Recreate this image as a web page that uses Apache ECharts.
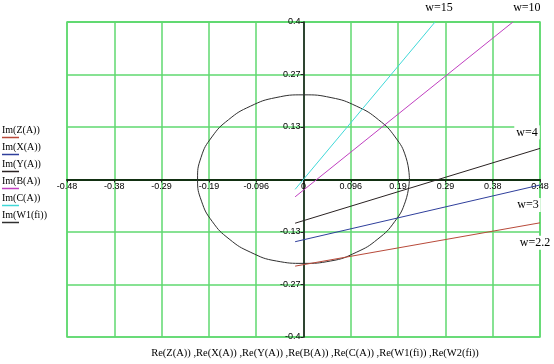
<!DOCTYPE html>
<html><head><meta charset="utf-8">
<script src="https://cdn.jsdelivr.net/npm/echarts@6/dist/echarts.min.js"></script>
<style>html,body{margin:0;padding:0;background:#fff}#c{width:554px;height:364px}</style>
</head><body><div id="c"></div>
<script>
// ---- data ----
const seriesNames = ['Im(Z(A))', 'Im(X(A))', 'Im(Y(A))', 'Im(B(A))', 'Im(C(A))', 'Im(W1(fi))'];
const lineTags = ['w=2.2', 'w=3', 'w=4', 'w=10', 'w=15'];
const xAxisTitle = 'Re(Z(A)) ,Re(X(A)) ,Re(Y(A)) ,Re(B(A)) ,Re(C(A)) ,Re(W1(fi)) ,Re(W2(fi))';
const xTickLabels = ['-0.48', '-0.38', '-0.29', '-0.19', '-0.096', '0', '0.096', '0.19', '0.29', '0.38', '0.48'];
const yTickLabels = ['-0.4', '-0.27', '-0.13', '', '0.13', '0.27', '0.4'];

const zRe = [-0.017, 0.48];   const zIm = [-0.220, -0.110];
const xRe = [-0.017, 0.48];   const xIm = [-0.158, -0.014];
const yRe = [-0.017, 0.48];   const yIm = [-0.111, 0.079];
const bRe = [-0.017, 0.425];  const bIm = [-0.044, 0.400];
const cRe = [-0.017, 0.267];  const cIm = [-0.025, 0.400];
const w1Re = [0.215, 0.208, 0.186, 0.152, 0.108, 0.056, 0, -0.056, -0.108, -0.152, -0.186, -0.208, -0.215,
              -0.207, -0.185, -0.151, -0.107, -0.055, 0, 0.055, 0.107, 0.151, 0.185, 0.207, 0.215];
const w1Im = [0, 0.056, 0.108, 0.152, 0.186, 0.208, 0.215, 0.208, 0.186, 0.152, 0.108, 0.056, 0,
              -0.055, -0.107, -0.151, -0.185, -0.207, -0.213, -0.207, -0.185, -0.151, -0.107, -0.055, 0];

// ---- styling ----
const colors = ['#b84a3a', '#2f3f9c', '#2a2222', '#c040c0', '#40d8d8', '#303030'];
const gridGreen = '#5fd86f';
const tagOffsets = [[-5, 20], [-12, 20], [-13, -16], [14, -14], [4, -14]];

const xMin = -0.48, xMax = 0.48, xStep = 0.096;
const yMin = -0.4, yMax = 0.4, yStep = 0.4 / 3;

function pairs(re, im) { return re.map((v, i) => [v, im[i]]); }
const lineSets = [[zRe, zIm], [xRe, xIm], [yRe, yIm], [bRe, bIm], [cRe, cIm]];

const series = lineSets.map((s, i) => {
  const d = pairs(s[0], s[1]);
  const last = d[d.length - 1];
  return {
    name: seriesNames[i], type: 'line', data: d, showSymbol: false, symbol: 'none',
    lineStyle: { color: colors[i], width: 1 }, itemStyle: { color: colors[i] },
    z: 3, animation: false,
    markPoint: {
      symbol: 'circle', symbolSize: 0, animation: false,
      itemStyle: { color: 'rgba(0,0,0,0)' },
      label: { show: true, formatter: lineTags[i], offset: tagOffsets[i],
        fontFamily: 'Liberation Serif', fontSize: 12, color: '#000',
        backgroundColor: '#fff', padding: [1, 2] },
      data: [{ coord: last }]
    }
  };
});
series.push({
  name: seriesNames[5], type: 'line', data: pairs(w1Re, w1Im), smooth: true,
  showSymbol: false, symbol: 'none', lineStyle: { color: colors[5], width: 1 },
  itemStyle: { color: colors[5] }, z: 2, animation: false
});

const rich = { t: { fontFamily: 'Liberation Serif', fontSize: 10, color: '#000', lineHeight: 11 } };
colors.forEach((c, i) => { rich['u' + i] = { width: 17, height: 1.5, fontSize: 2, lineHeight: 4, backgroundColor: c }; });

const chart = echarts.init(document.getElementById('c'), null, { renderer: 'canvas' });
chart.setOption({
  backgroundColor: '#fff',
  animation: false,
  title: { text: xAxisTitle, left: 310, textAlign: 'center', bottom: 0,
    textStyle: { fontFamily: 'Liberation Serif', fontSize: 10.5, fontWeight: 'normal', color: '#000' } },
  legend: {
    orient: 'vertical', left: -9, top: 120, itemWidth: 0, itemHeight: 0, itemGap: 3.5,
    selectedMode: false, data: seriesNames,
    formatter: name => '{t|' + name + '}\n{u' + seriesNames.indexOf(name) + '|}',
    textStyle: { rich: rich }
  },
  grid: { left: 67, right: 14, top: 22, bottom: 27, show: true, borderColor: gridGreen, borderWidth: 1.5, containLabel: false },
  xAxis: {
    type: 'value', min: xMin, max: xMax, interval: xStep,
    axisLine: { onZero: false, lineStyle: { color: '#123012', width: 2 } },
    axisTick: { show: true, length: 3, lineStyle: { color: '#222' } },
    axisLabel: { fontFamily: 'Liberation Sans', fontSize: 9, color: '#000', margin: 3,
      formatter: v => xTickLabels[Math.round((v - xMin) / xStep)] || '' },
    splitLine: { show: true, lineStyle: { color: gridGreen, width: 1.5 } }
  },
  yAxis: {
    type: 'value', min: yMin, max: yMax, interval: yStep,
    axisLine: { onZero: false, lineStyle: { color: '#111', width: 1.5 } },
    axisTick: { show: true, length: 3, lineStyle: { color: '#222' } },
    axisLabel: { fontFamily: 'Liberation Sans', fontSize: 9, color: '#000', margin: 3,
      formatter: v => yTickLabels[Math.round((v - yMin) / yStep)] || '' },
    splitLine: { show: true, lineStyle: { color: gridGreen, width: 1.5 } }
  },
  series: series
});
// move both axes (line, ticks, labels) onto the origin, like the reference
const origin = chart.convertToPixel({ xAxisIndex: 0, yAxisIndex: 0 }, [0, 0]);
const corner = chart.convertToPixel({ xAxisIndex: 0, yAxisIndex: 0 }, [xMin, yMin]);
chart.setOption({
  xAxis: { offset: -(corner[1] - origin[1]) },
  yAxis: { offset: -(origin[0] - corner[0]) }
});
</script></body></html>
